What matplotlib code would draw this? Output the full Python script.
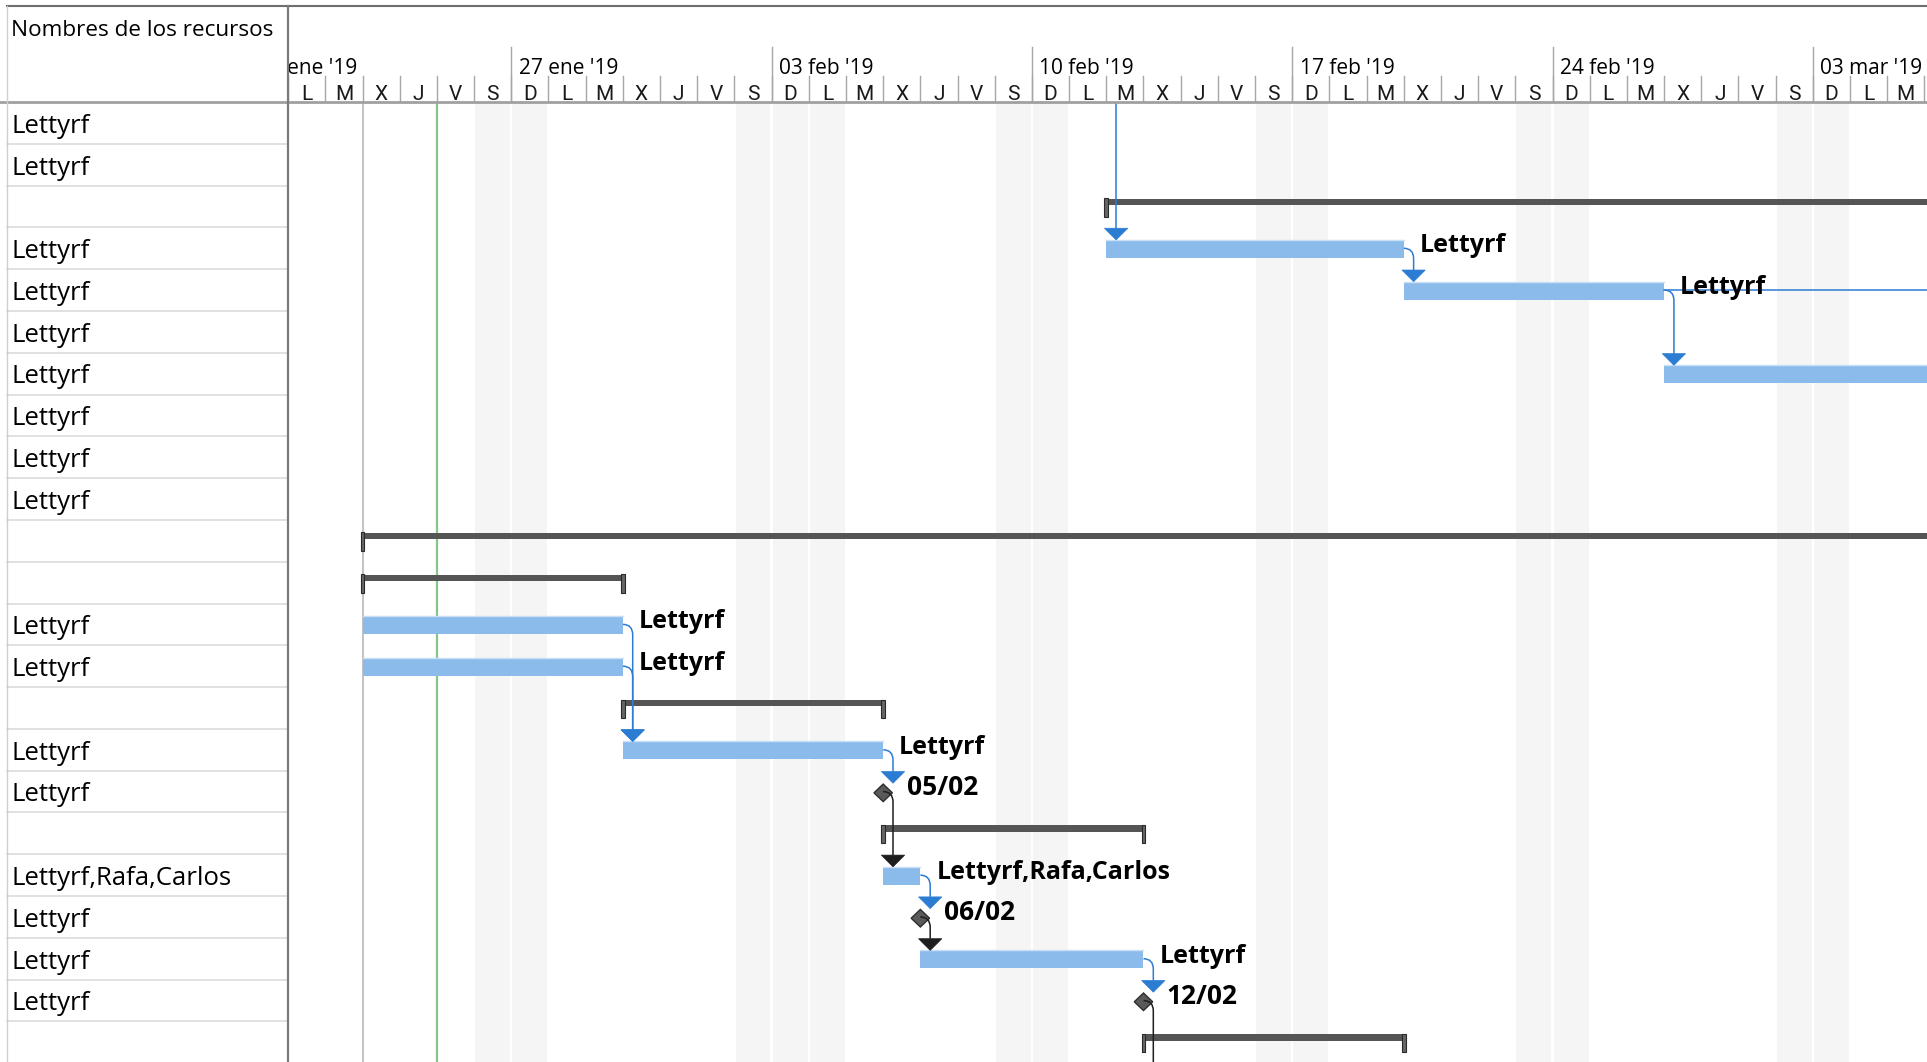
import matplotlib
matplotlib.use("Agg")
import matplotlib.pyplot as plt
import matplotlib.dates as mdates
from matplotlib.patches import Rectangle, Polygon, PathPatch
from matplotlib.path import Path
from matplotlib.lines import Line2D
from datetime import datetime, timedelta

plt.rcParams['font.family'] = ['Open Sans', 'DejaVu Sans']

# resource column, one entry per row ("" = summary row)
resources = ["Lettyrf", "Lettyrf", "", "Lettyrf", "Lettyrf", "Lettyrf", "Lettyrf",
             "Lettyrf", "Lettyrf", "Lettyrf", "", "", "Lettyrf", "Lettyrf", "",
             "Lettyrf", "Lettyrf", "", "Lettyrf,Rafa,Carlos", "Lettyrf", "Lettyrf",
             "Lettyrf", ""]

task_rows = [3, 4, 6, 12, 13, 15, 18, 20]
task_start = ["2019-02-12", "2019-02-20", "2019-02-27", "2019-01-23", "2019-01-23",
              "2019-01-30", "2019-02-06", "2019-02-07"]
task_end = ["2019-02-20", "2019-02-27", "2019-03-12", "2019-01-30", "2019-01-30",
            "2019-02-06", "2019-02-07", "2019-02-13"]

summary_rows = [2, 10, 11, 14, 17, 22]
summary_start = ["2019-02-12", "2019-01-23", "2019-01-23", "2019-01-30", "2019-02-06", "2019-02-13"]
summary_end = ["2019-03-20", "2019-03-20", "2019-01-30", "2019-02-06", "2019-02-13", "2019-02-20"]

milestone_rows = [16, 19, 21]
milestone_dates = ["2019-02-06", "2019-02-07", "2019-02-13"]
milestone_labels = ["05/02", "06/02", "12/02"]

# finish-to-start links (predecessor row, successor row)
links = [(3, 4), (4, 6), (12, 15), (13, 15), (15, 16), (16, 18), (18, 19), (19, 20), (20, 21)]
link_from_top = [3]      # predecessor scrolled out above
link_to_right = [4]      # successor out of view on the right
link_to_bottom = [21]    # successor out of view below

week_starts = ["2019-01-20", "2019-01-27", "2019-02-03", "2019-02-10",
               "2019-02-17", "2019-02-24", "2019-03-03"]
week_labels = ["20 ene '19", "27 ene '19", "03 feb '19", "10 feb '19",
               "17 feb '19", "24 feb '19", "03 mar '19"]
day_letters = ["L", "M", "X", "J", "V", "S", "D"]  # by weekday()

nonworking = ["2019-01-26", "2019-01-27", "2019-02-02", "2019-02-03", "2019-02-04",
              "2019-02-09", "2019-02-10", "2019-02-16", "2019-02-17", "2019-02-23",
              "2019-02-24", "2019-03-02", "2019-03-03"]

project_start = "2019-01-23"
status_date = "2019-01-25"
view_start = "2019-01-21"
view_days = 44.07


def dn(s):
    return mdates.date2num(datetime.strptime(s, "%Y-%m-%d"))


# layout in reference pixels (1568 x 864 view)
W, H = 1568.0, 864.0
SPLIT = 234.5
HEAD_TOP, HEAD_BOT = 5.0, 83.0
ROW_PX = 34.0
DAY_PX = 30.257
n_rows_visible = (H - HEAD_BOT) / ROW_PX


def fx(p):
    return p / W


def fy(p):
    return 1 - p / H


BAR = "#8BBBEB"
SUMMARY = "#555555"
BLUE = "#2B7CD3"
DARK = "#1E1E1E"
MS = "#5A5A5A"
SHADE = "#F5F5F5"
GRID = "#A6A6A6"

fig = plt.figure(figsize=(19.27, 10.62), dpi=100)

# ---------------- gantt area ----------------
ax = fig.add_axes([fx(SPLIT), 0, 1 - fx(SPLIT), fy(HEAD_BOT)])
x0 = dn(view_start)
x1 = x0 + view_days
ax.set_xlim(x0, x1)
ax.set_ylim(n_rows_visible - 0.5, -0.5)
ax.axis('off')

for d in nonworking:
    ax.axvspan(dn(d) + 0.03, dn(d) + 0.97, color=SHADE, lw=0, zorder=0)

ax.axvline(dn(project_start), color="#BDBDBD", lw=1.3, zorder=1)
ax.axvline(dn(status_date), color="#85C585", lw=1.6, zorder=1)

# summary bars
for r, s, e in zip(summary_rows, summary_start, summary_end):
    xs, xe = dn(s), dn(e)
    ax.add_patch(Rectangle((xs, r - 0.19), xe - xs, 0.15, color=SUMMARY, lw=0, zorder=3))
    for xb in (xs, xe):
        ax.add_patch(Rectangle((xb - 0.05, r - 0.2), 0.1, 0.44, facecolor="#666666",
                               edgecolor="#2A2A2A", lw=0.8, zorder=4))

# task bars + labels (label only when the bar ends inside the view)
LBL_DX = 13 / DAY_PX
for r, s, e in zip(task_rows, task_start, task_end):
    xs, xe = dn(s), dn(e)
    ax.add_patch(Rectangle((xs, r - 0.2), xe - xs, 0.43, facecolor=BAR,
                           edgecolor="none", zorder=3))
    ax.plot([xs, xe], [r - 0.2, r - 0.2], color="#C9E0F6", lw=1, zorder=3)
    if xe < x1:
        ax.text(xe + LBL_DX, r + 0.09, resources[r], fontsize=18, fontweight='bold',
                va='baseline', ha='left', zorder=6)

# milestones
HW, HH = 7.5 / DAY_PX, 0.21
for r, m, lab in zip(milestone_rows, milestone_dates, milestone_labels):
    xm = dn(m)
    ax.add_patch(Polygon([(xm - HW, r + 0.03), (xm, r + 0.03 - HH), (xm + HW, r + 0.03),
                          (xm, r + 0.03 + HH)], closed=True, facecolor=MS,
                         edgecolor="#2E2E2E", lw=1, zorder=4))
    ax.text(xm + 19 / DAY_PX, r + 0.08, lab, fontsize=19, fontweight='bold',
            va='baseline', ha='left', zorder=6)

# links
starts, ends, kinds = {}, {}, {}
for r, s, e in zip(task_rows, task_start, task_end):
    starts[r], ends[r], kinds[r] = dn(s), dn(e), "task"
for r, m in zip(milestone_rows, milestone_dates):
    starts[r] = ends[r] = dn(m)
    kinds[r] = "ms"

DX = 8 / DAY_PX
AW, AH = 9.5 / DAY_PX, 0.28
TIP = -0.2


def arrow(xv, ytip, color):
    ax.add_patch(Polygon([(xv - AW, ytip - AH), (xv + AW, ytip - AH), (xv, ytip)],
                         closed=True, facecolor=color, edgecolor=color, lw=0.5, zorder=5))


for p, s in links:
    color = DARK if kinds[p] == "ms" else BLUE
    xe = ends[p]
    xv = starts[s] + DX
    y0 = p + 0.0
    ytip = s + TIP
    verts = [(xe, y0), (xv, y0), (xv, y0 + 0.25), (xv, ytip - AH)]
    codes = [Path.MOVETO, Path.CURVE3, Path.CURVE3, Path.LINETO]
    ax.add_patch(PathPatch(Path(verts, codes), fill=False, edgecolor=color, lw=1.1, zorder=5))
    arrow(xv, ytip, color)

for s in link_from_top:
    xv = starts[s] + DX
    ax.plot([xv, xv], [-0.5, s + TIP - AH], color=BLUE, lw=1.1, zorder=5)
    arrow(xv, s + TIP, BLUE)

for p in link_to_right:
    ax.plot([ends[p], x1], [p, p], color=BLUE, lw=1.1, zorder=5)

for p in link_to_bottom:
    xe = ends[p]
    xv = xe + DX
    verts = [(xe, p), (xv, p), (xv, p + 0.25), (xv, n_rows_visible)]
    codes = [Path.MOVETO, Path.CURVE3, Path.CURVE3, Path.LINETO]
    ax.add_patch(PathPatch(Path(verts, codes), fill=False, edgecolor=DARK, lw=1.1, zorder=5))

# ---------------- timescale header ----------------
hax = fig.add_axes([fx(SPLIT), fy(HEAD_BOT), 1 - fx(SPLIT), fy(0) - fy(HEAD_BOT)])
hax.set_xlim(x0, x1)
hax.set_ylim(HEAD_BOT, 0)
hax.axis('off')

for ws, wl in zip(week_starts, week_labels):
    xw = dn(ws)
    hax.plot([xw, xw], [38, HEAD_BOT], color=GRID, lw=1, clip_on=True)
    hax.text(xw + 6 / DAY_PX, 60, wl, fontsize=15, va='baseline', ha='left', clip_on=True)

day = datetime.strptime(week_starts[0], "%Y-%m-%d")
last = datetime.strptime(week_starts[-1], "%Y-%m-%d") + timedelta(days=7)
while day < last:
    xd = mdates.date2num(day)
    hax.plot([xd, xd], [62, HEAD_BOT], color=GRID, lw=1, clip_on=True)
    if xd >= x0 and xd + 1 <= x1:
        hax.text(xd + 0.5, 81.5, day_letters[day.weekday()], fontsize=15, va='baseline',
                 ha='center', family=['Roboto', 'DejaVu Sans'], color="#1A1A1A")
    day += timedelta(days=1)

# ---------------- resource table ----------------
tax = fig.add_axes([0, 0, fx(SPLIT), fy(HEAD_BOT)])
tax.set_xlim(0, SPLIT)
tax.set_ylim(n_rows_visible - 0.5, -0.5)
tax.axis('off')
for i, name in enumerate(resources):
    tax.plot([6, SPLIT], [i + 0.5, i + 0.5], color="#DCDCDC", lw=1.2)
    if name:
        tax.text(9, i + 0.235, name, fontsize=18.5, va='baseline', ha='left')

fig.text(fx(9), fy(29), "Nombres de los recursos", fontsize=16.2, va='baseline', ha='left')

# frame lines
fig.add_artist(Line2D([fx(6), 1], [fy(HEAD_TOP), fy(HEAD_TOP)], color="#6E6E6E", lw=1.5))
fig.add_artist(Line2D([0, 1], [fy(HEAD_BOT), fy(HEAD_BOT)], color="#A0A0A0", lw=2))
fig.add_artist(Line2D([fx(SPLIT), fx(SPLIT)], [0, fy(HEAD_TOP)], color="#7A7A7A", lw=1.6))
fig.add_artist(Line2D([fx(6), fx(6)], [0, fy(HEAD_TOP)], color="#CFCFCF", lw=1))

fig.savefig("out.png", dpi=100)
